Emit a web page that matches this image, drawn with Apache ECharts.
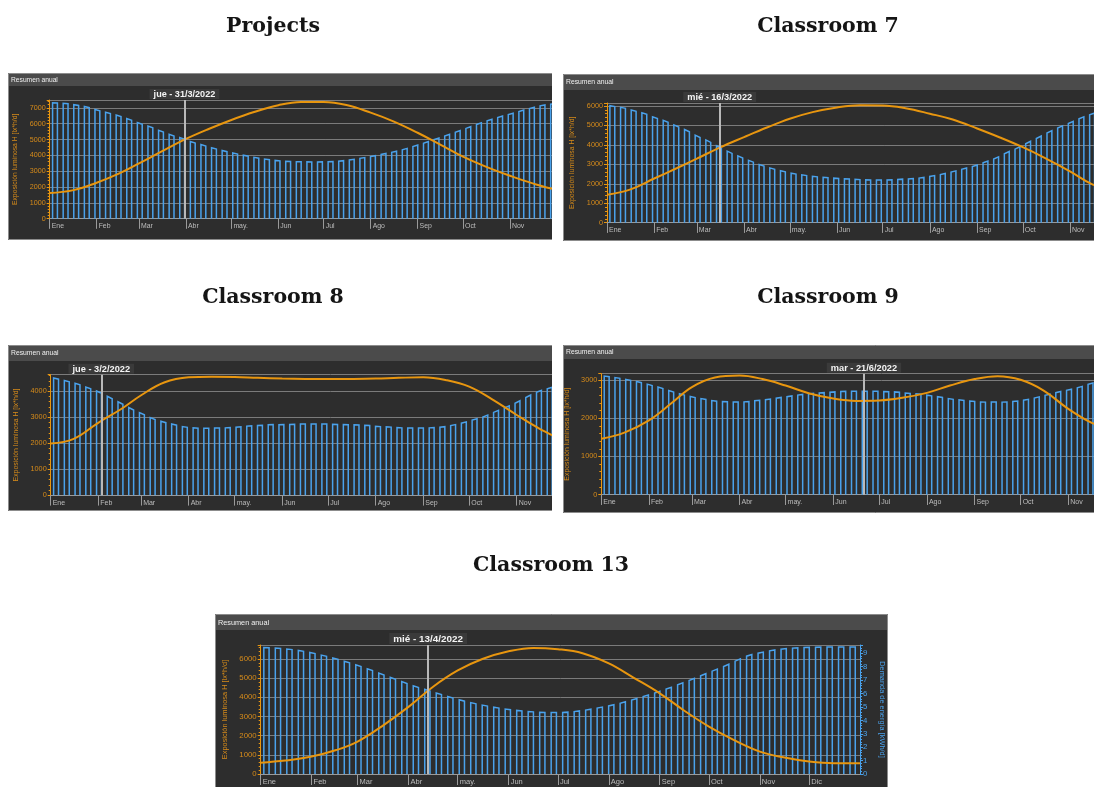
<!DOCTYPE html>
<html lang="es">
<head>
<meta charset="utf-8">
<title>Resumen anual</title>
<script src="https://cdn.jsdelivr.net/npm/echarts@6/dist/echarts.min.js"></script>
<style>
  html, body { margin: 0; padding: 0; background: #ffffff; }
  #page { position: absolute; left: 0; top: 0; width: 1094px; height: 787px; }
  .clip { position: absolute; overflow: hidden; }
</style>
</head>
<body>
<div id="page"></div>
<script>
// Calendar axis: day of year (0 = 1 Jan)
const monthStarts = [0, 31, 59, 90, 120, 151, 181, 212, 243, 273, 304, 334];
const monthLabels = ['Ene', 'Feb', 'Mar', 'Abr', 'may.', 'Jun', 'Jul', 'Ago', 'Sep', 'Oct', 'Nov', 'Dic'];

// Weekly demand bars (centre day of each week)
const barDays = [3.5, 10.5, 17.5, 24.5, 31.5, 38.5, 45.5, 52.5, 59.5, 66.5, 73.5, 80.5, 87.5,
  94.5, 101.5, 108.5, 115.5, 122.5, 129.5, 136.5, 143.5, 150.5, 157.5, 164.5, 171.5, 178.5,
  185.5, 192.5, 199.5, 206.5, 213.5, 220.5, 227.5, 234.5, 241.5, 248.5, 255.5, 262.5, 269.5,
  276.5, 283.5, 290.5, 297.5, 304.5, 311.5, 318.5, 325.5, 332.5, 339.5, 346.5, 353.5, 360.5];

// Days at which the luminous exposure curve is sampled
const curveDays = [0, 15, 31, 46, 59, 74, 90, 105, 120, 135, 151, 166, 181, 196, 212, 227, 243, 258, 273, 288, 304, 319, 334, 349, 365];

// Projects
const projectsDemand = [7.32, 7.28, 7.18, 7.05, 6.86, 6.69, 6.50, 6.27, 6.02, 5.80, 5.53, 5.28, 5.07, 4.83, 4.64, 4.44, 4.27, 4.12, 3.98, 3.85, 3.75, 3.67, 3.62, 3.60, 3.59, 3.59,
  3.60, 3.65, 3.73, 3.84, 3.95, 4.09, 4.23, 4.40, 4.60, 4.82, 5.05, 5.28, 5.52, 5.76, 6.00, 6.23, 6.44, 6.62, 6.82, 7.00, 7.16, 7.25, 7.30, 7.33, 7.34, 7.34];
const projectsExposure = [1630, 1790, 2270, 2860, 3490, 4250, 5040, 5670, 6240, 6740, 7170, 7370, 7370, 7180, 6700, 6150, 5430, 4680, 3920, 3290, 2710, 2230, 1860, 1710, 1640];

// Classroom 7
const classroom7Demand = [5.99, 5.90, 5.76, 5.61, 5.40, 5.21, 4.97, 4.73, 4.44, 4.19, 3.89, 3.62, 3.38, 3.16, 2.95, 2.78, 2.64, 2.52, 2.44, 2.37, 2.32, 2.28, 2.25, 2.22, 2.20, 2.19,
  2.20, 2.23, 2.26, 2.31, 2.40, 2.50, 2.63, 2.78, 2.92, 3.12, 3.33, 3.60, 3.84, 4.12, 4.39, 4.67, 4.92, 5.15, 5.39, 5.59, 5.76, 5.88, 5.96, 6.00, 6.02, 6.02];
const classroom7Exposure = [1440, 1700, 2270, 2810, 3290, 3860, 4400, 4890, 5340, 5680, 5920, 6030, 6020, 5880, 5600, 5300, 4840, 4380, 3880, 3310, 2640, 1960, 1650, 1510, 1440];

// Classroom 8
const classroom8Demand = [4.49, 4.39, 4.28, 4.13, 3.97, 3.76, 3.55, 3.33, 3.14, 2.95, 2.82, 2.72, 2.63, 2.59, 2.58, 2.59, 2.60, 2.63, 2.67, 2.69, 2.72, 2.72, 2.73, 2.74, 2.74, 2.74,
  2.73, 2.72, 2.71, 2.69, 2.65, 2.63, 2.60, 2.59, 2.59, 2.60, 2.63, 2.70, 2.80, 2.92, 3.05, 3.23, 3.40, 3.59, 3.81, 4.00, 4.13, 4.25, 4.35, 4.43, 4.48, 4.50];
const classroom8Exposure = [1990, 2170, 2790, 3320, 3850, 4340, 4540, 4565, 4555, 4520, 4490, 4475, 4470, 4475, 4490, 4520, 4540, 4430, 4180, 3690, 3090, 2560, 2150, 2030, 1990];

// Classroom 9
const classroom9Demand = [3.09, 3.05, 3.00, 2.94, 2.87, 2.79, 2.70, 2.62, 2.55, 2.50, 2.45, 2.43, 2.42, 2.43, 2.46, 2.49, 2.53, 2.57, 2.61, 2.64, 2.66, 2.68, 2.70, 2.70, 2.70, 2.70,
  2.69, 2.68, 2.65, 2.63, 2.59, 2.55, 2.50, 2.47, 2.44, 2.42, 2.42, 2.42, 2.44, 2.48, 2.54, 2.61, 2.68, 2.74, 2.81, 2.90, 2.96, 3.01, 3.05, 3.08, 3.09, 3.10];
const classroom9Exposure = [1460, 1620, 1940, 2400, 2810, 3060, 3110, 3020, 2850, 2650, 2510, 2450, 2460, 2530, 2660, 2850, 3020, 3095, 3000, 2720, 2240, 1880, 1650, 1530, 1460];

// Classroom 13
const classroom13Demand = [9.42, 9.38, 9.30, 9.18, 9.02, 8.82, 8.60, 8.35, 8.08, 7.78, 7.46, 7.14, 6.82, 6.52, 6.25, 5.98, 5.72, 5.48, 5.28, 5.10, 4.95, 4.82, 4.72, 4.65, 4.60, 4.58,
  4.60, 4.68, 4.80, 4.95, 5.12, 5.33, 5.57, 5.83, 6.10, 6.40, 6.72, 7.05, 7.40, 7.75, 8.10, 8.50, 8.85, 9.05, 9.22, 9.33, 9.40, 9.44, 9.46, 9.47, 9.47, 9.47];
const classroom13Exposure = [590, 700, 910, 1250, 1690, 2500, 3500, 4550, 5400, 6000, 6400, 6580, 6510, 6300, 5770, 5030, 4210, 3300, 2470, 1780, 1170, 860, 650, 560, 560];

const pageTitles = [
  { text: 'Projects', x: 273, y: 27 },
  { text: 'Classroom 7', x: 828, y: 27 },
  { text: 'Classroom 8', x: 273, y: 298 },
  { text: 'Classroom 9', x: 828, y: 298 },
  { text: 'Classroom 13', x: 551, y: 566 }
];

const COLORS = {
  body: '#2d2d2d', header: '#4b4b4b', frame: '#8c8c8c',
  grid: '#7b7b7b', orange: '#e8960f', orangeText: '#d68b1a',
  blue: '#4aa2ec', axisGray: '#9a9a9a', labelGray: '#bdbdbd', cursor: '#b9b9b9'
};

// Screen layout of each panel (px)
const panels = [
  { name: 'Projects', x: 8, y: 73, visW: 544, visH: 167, fullH: 167, s: 0.92, header: 13, gridLeft: 41.7, gridTop: 27, y0: 145.7, ppd: 1.514,
    yMax: 7500, rMax: 7.5, nameGap: 27.5, cursorDay: 89, cursorText: 'jue - 31/3/2022', demand: projectsDemand, exposure: projectsExposure },
  { name: 'Classroom 7', x: 563, y: 74, visW: 531, visH: 167, fullH: 167, s: 0.93, header: 16, gridLeft: 44, gridTop: 29, y0: 148.7, ppd: 1.523,
    yMax: 6150, rMax: 6.15, nameGap: 27, cursorDay: 74, cursorText: 'mié - 16/3/2022', demand: classroom7Demand, exposure: classroom7Exposure },
  { name: 'Classroom 8', x: 8, y: 345, visW: 544, visH: 166, fullH: 166, s: 0.935, header: 16, gridLeft: 42.7, gridTop: 29.7, y0: 150.3, ppd: 1.533,
    yMax: 4640, rMax: 4.64, nameGap: 26, cursorDay: 33, cursorText: 'jue - 3/2/2022', demand: classroom8Demand, exposure: classroom8Exposure },
  { name: 'Classroom 9', x: 563, y: 345, visW: 531, visH: 168, fullH: 168, s: 0.935, header: 14, gridLeft: 38.3, gridTop: 28.7, y0: 149.7, ppd: 1.536,
    yMax: 3160, rMax: 3.16, nameGap: 28.5, cursorDay: 171, cursorText: 'mar - 21/6/2022', demand: classroom9Demand, exposure: classroom9Exposure },
  { name: 'Classroom 13', x: 215, y: 614, visW: 673, visH: 173, fullH: 182, s: 1, header: 16, gridLeft: 45.7, gridTop: 31, y0: 160, ppd: 1.642,
    yMax: 6730, rMax: 9.62, nameGap: 31.5, cursorDay: 102, cursorText: 'mié - 13/4/2022', demand: classroom13Demand, exposure: classroom13Exposure }
];

// Page headings
const pageChart = echarts.init(document.getElementById('page'), null, { renderer: 'canvas' });
pageChart.setOption({
  animation: false,
  backgroundColor: '#ffffff',
  graphic: pageTitles.map(t => ({
    type: 'text', x: t.x, y: t.y,
    style: { text: t.text, fill: '#151515', font: 'bold 20.5px "DejaVu Serif", serif', align: 'center', verticalAlign: 'middle' }
  }))
});

// Top edge of each weekly bar follows the local trend of the series
function barRows(values) {
  return barDays.map((d, i) => {
    const lo = Math.max(0, i - 1);
    const hi = Math.min(values.length - 1, i + 1);
    const slope = (values[hi] - values[lo]) / ((hi - lo) * 7);
    return [d, values[i], values[i] - slope * 1.6, values[i] + slope * 1.6];
  });
}

const plainNumber = v => String(Math.round(v * 100) / 100);

function buildPanel(p) {
  const gridW = 365 * p.ppd;
  const fullW = Math.round(p.gridLeft + gridW + 28 * p.s);
  const wrap = document.createElement('div');
  wrap.className = 'clip';
  Object.assign(wrap.style, { left: p.x + 'px', top: p.y + 'px', width: p.visW + 'px', height: p.visH + 'px' });
  const inner = document.createElement('div');
  Object.assign(inner.style, { width: fullW + 'px', height: p.fullH + 'px' });
  wrap.appendChild(inner);
  document.body.appendChild(wrap);

  const s = p.s;
  const sans = '"Liberation Sans", Arial, sans-serif';
  const chart = echarts.init(inner, null, { renderer: 'canvas' });
  chart.setOption({
    animation: false,
    backgroundColor: COLORS.body,
    graphic: [
      { type: 'rect', z: -1, shape: { x: 0, y: 0, width: fullW, height: p.header }, style: { fill: COLORS.header } },
      { type: 'text', x: 3, y: p.header / 2 + 0.5, style: { text: 'Resumen anual', fill: '#f0f0f0', font: (7.3 * s).toFixed(1) + 'px ' + sans, verticalAlign: 'middle' } },
      { type: 'rect', z: 100, silent: true, shape: { x: 0.5, y: 0.5, width: fullW - 1, height: p.fullH - 1 }, style: { fill: null, stroke: COLORS.frame, lineWidth: 1 } }
    ],
    grid: {
      left: p.gridLeft, top: p.gridTop, width: gridW, height: p.y0 - p.gridTop,
      containLabel: false, outerBoundsMode: 'none', show: false
    },
    xAxis: {
      type: 'value', min: 0, max: 365,
      axisLine: { show: true, lineStyle: { color: COLORS.axisGray, width: 1 } },
      axisTick: { show: true, customValues: monthStarts, length: 11 * s, lineStyle: { color: COLORS.axisGray } },
      axisLabel: {
        show: true, customValues: monthStarts,
        formatter: v => monthLabels[monthStarts.indexOf(v)],
        align: 'left', margin: 4, padding: [0, 0, 0, 2],
        color: COLORS.labelGray, fontSize: 7.5 * s, fontFamily: sans
      },
      splitLine: { show: false }
    },
    yAxis: [
      {
        type: 'value', min: 0, max: p.yMax, interval: 1000, position: 'left',
        name: 'Exposición luminosa H [lx*h/d]', nameLocation: 'middle', nameGap: p.nameGap, nameRotate: 90,
        nameTextStyle: { color: COLORS.orangeText, fontSize: 7.4 * s, fontFamily: sans },
        axisLine: { show: true, lineStyle: { color: COLORS.orange, width: 1 } },
        axisTick: { show: true, length: 3, lineStyle: { color: COLORS.orange } },
        minorTick: { show: true, splitNumber: 5, length: 2, lineStyle: { color: COLORS.orange } },
        axisLabel: { color: COLORS.orangeText, fontSize: 7.8 * s, fontFamily: sans, margin: 4, showMaxLabel: false, formatter: plainNumber },
        splitLine: { show: true, lineStyle: { color: COLORS.grid, width: 1 } }
      },
      {
        type: 'value', min: 0, max: p.rMax, interval: 1, position: 'right',
        name: 'Demanda de energía [kWh/d]', nameLocation: 'middle', nameGap: 18 * s, nameRotate: -90,
        nameTextStyle: { color: COLORS.blue, fontSize: 7.4 * s, fontFamily: sans },
        axisLine: { show: true, lineStyle: { color: COLORS.blue, width: 1 } },
        axisTick: { show: true, length: 3, lineStyle: { color: COLORS.blue } },
        minorTick: { show: true, splitNumber: 5, length: 2, lineStyle: { color: COLORS.blue } },
        axisLabel: { color: COLORS.blue, fontSize: 7.8 * s, fontFamily: sans, margin: 3, showMaxLabel: false, formatter: plainNumber },
        splitLine: { show: false }
      }
    ],
    series: [
      {
        name: 'Demanda de energía', type: 'custom', coordinateSystem: 'cartesian2d',
        xAxisIndex: 0, yAxisIndex: 1, z: 2, silent: true,
        encode: { x: 0, y: 1 },
        data: barRows(p.demand),
        renderItem: (params, api) => {
          const d = api.value(0);
          const base = api.coord([d, 0]);
          const tl = api.coord([d - 1.6, api.value(2)]);
          const tr = api.coord([d + 1.6, api.value(3)]);
          return {
            type: 'polyline',
            shape: { points: [[tl[0], base[1]], tl, tr, [tr[0], base[1]]] },
            style: { stroke: COLORS.blue, fill: null, lineWidth: 1.5 }
          };
        }
      },
      {
        name: 'Exposición luminosa', type: 'line', xAxisIndex: 0, yAxisIndex: 0, z: 4,
        data: curveDays.map((d, i) => [d, p.exposure[i]]),
        smooth: 0.4, showSymbol: false, symbol: 'none', silent: true,
        lineStyle: { color: COLORS.orange, width: 2 },
        markLine: {
          silent: true, symbol: ['none', 'none'], animation: false,
          lineStyle: { color: COLORS.cursor, width: 2, type: 'solid' },
          label: {
            show: true, position: 'end', formatter: p.cursorText, distance: 1,
            color: '#f4f4f4', fontWeight: 'bold', fontSize: 9.9 * s, fontFamily: sans,
            backgroundColor: '#3a3a3a', padding: [1, 4, 0, 4]
          },
          emphasis: { disabled: true },
          data: [{ xAxis: p.cursorDay }]
        }
      }
    ]
  });
}

panels.forEach(buildPanel);
</script>
</body>
</html>
